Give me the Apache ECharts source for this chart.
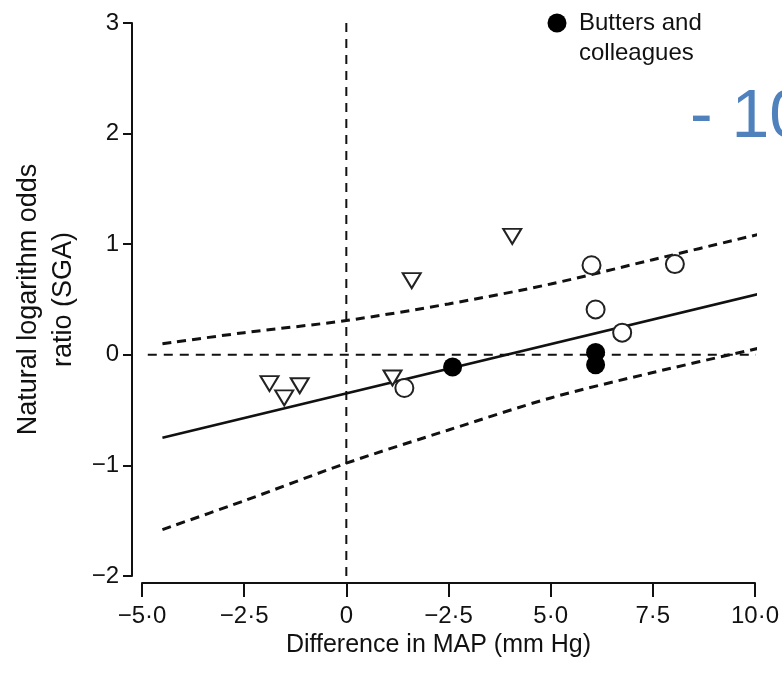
<!DOCTYPE html>
<html>
<head>
<meta charset="utf-8">
<script src="https://cdn.jsdelivr.net/npm/echarts@6/dist/echarts.min.js"></script>
<style>
  html, body { margin: 0; padding: 0; background: #fff; }
  #chart { width: 782px; height: 685px; }
</style>
</head>
<body>
<div id="chart"></div>
<script>
// tick labels as printed in the figure
const xTickLabels = ['−5·0', '−2·5', '0', '−2·5', '5·0', '7·5', '10·0'];
const yTickLabels = ['−2', '−1', '0', '1', '2', '3'];

// studies
const triangles = [[-1.88, -0.26], [-1.52, -0.39], [-1.14, -0.28], [1.13, -0.21], [1.6, 0.67], [4.06, 1.07]];
const openCircles = [[1.42, -0.30], [6.0, 0.81], [6.1, 0.41], [6.75, 0.2], [8.04, 0.82]];
const butters = [[2.6, -0.11], [6.1, 0.02], [6.1, -0.09]];

// regression and confidence band
const fitLine = [[-4.5, -0.75], [10.2, 0.56]];
const upperCI = [[-4.5, 0.1], [-2.5, 0.2], [0, 0.31], [2.5, 0.46], [5, 0.64], [7.5, 0.86], [10.1, 1.09]];
const lowerCI = [[-4.5, -1.58], [-2.5, -1.32], [0, -0.98], [2.5, -0.68], [5, -0.39], [7.5, -0.16], [10.1, 0.06]];

// reference lines at zero
const zeroH = [[-5.25, 0], [10.1, 0]];
const zeroV = [[0, 3], [0, -2.06]];

const xMin = -5, xStep = 2.5, yMin = -2, yStep = 1;
const ink = '#111';

const myChart = echarts.init(document.getElementById('chart'));
const option = {
    animation: false,
    grid: { left: 142, right: 19, top: 23, bottom: 109 },
    xAxis: {
        type: 'value', min: xMin, max: 10, interval: xStep, offset: 7,
        axisLine: { onZero: false, lineStyle: { color: ink, width: 2 } },
        axisTick: { inside: false, length: 14, lineStyle: { color: ink, width: 2 } },
        axisLabel: {
            fontSize: 24, color: ink, margin: 21, fontFamily: 'Liberation Sans',
            formatter: v => xTickLabels[Math.round((v - xMin) / xStep)]
        },
        splitLine: { show: false },
        name: 'Difference in MAP (mm Hg)', nameLocation: 'middle', nameGap: 46,
        nameTextStyle: { fontSize: 25, color: ink, fontFamily: 'Liberation Sans', padding: [0, 20, 0, 0] }
    },
    yAxis: {
        type: 'value', min: yMin, max: 3, interval: yStep, offset: 10,
        axisLine: { onZero: false, lineStyle: { color: ink, width: 2 } },
        axisTick: { inside: false, length: 9, lineStyle: { color: ink, width: 2 } },
        axisLabel: {
            fontSize: 24, color: ink, margin: 13, fontFamily: 'Liberation Sans',
            formatter: v => yTickLabels[Math.round((v - yMin) / yStep)]
        },
        splitLine: { show: false },
        name: 'Natural logarithm odds\nratio (SGA)', nameLocation: 'middle', nameRotate: 90, nameGap: 49,
        nameTextStyle: { fontSize: 27, lineHeight: 35, color: ink, fontFamily: 'Liberation Sans' }
    },
    graphic: [
        { type: 'circle', shape: { cx: 557, cy: 23, r: 9.5 }, style: { fill: '#000' } },
        {
            type: 'text', left: 579, top: 8,
            style: { text: 'Butters and\ncolleagues', fontSize: 24, lineHeight: 30, fill: ink, fontFamily: 'Liberation Sans' }
        },
        {
            type: 'text', left: 690, top: 84,
            style: { text: '- 10', fontSize: 68, fill: '#4f81bd', fontFamily: 'Liberation Sans' }
        }
    ],
    series: [
        {
            type: 'line', data: zeroH, symbol: 'none', clip: false, silent: true,
            lineStyle: { color: ink, width: 2, type: [9, 7] }
        },
        {
            type: 'line', data: zeroV, symbol: 'none', clip: false, silent: true,
            lineStyle: { color: ink, width: 2, type: [9, 7] }
        },
        {
            type: 'line', data: upperCI, symbol: 'none', smooth: 0.3,
            lineStyle: { color: ink, width: 3, type: [9, 6] }
        },
        {
            type: 'line', data: lowerCI, symbol: 'none', smooth: 0.3,
            lineStyle: { color: ink, width: 3, type: [9, 6] }
        },
        {
            type: 'line', data: fitLine, symbol: 'none', clip: false,
            lineStyle: { color: ink, width: 2.5 }
        },
        {
            type: 'scatter', data: triangles, symbol: 'triangle', symbolSize: [18, 15], symbolRotate: 180, z: 5,
            itemStyle: { color: '#fff', borderColor: '#222', borderWidth: 2, opacity: 1 }
        },
        {
            type: 'scatter', data: openCircles, symbol: 'circle', symbolSize: 18, z: 5,
            itemStyle: { color: '#fff', borderColor: '#222', borderWidth: 2, opacity: 1 }
        },
        {
            name: 'Butters and colleagues',
            type: 'scatter', data: butters, symbol: 'circle', symbolSize: 19, z: 6,
            itemStyle: { color: '#000', opacity: 1 }
        }
    ]
};
myChart.setOption(option);
</script>
</body>
</html>
